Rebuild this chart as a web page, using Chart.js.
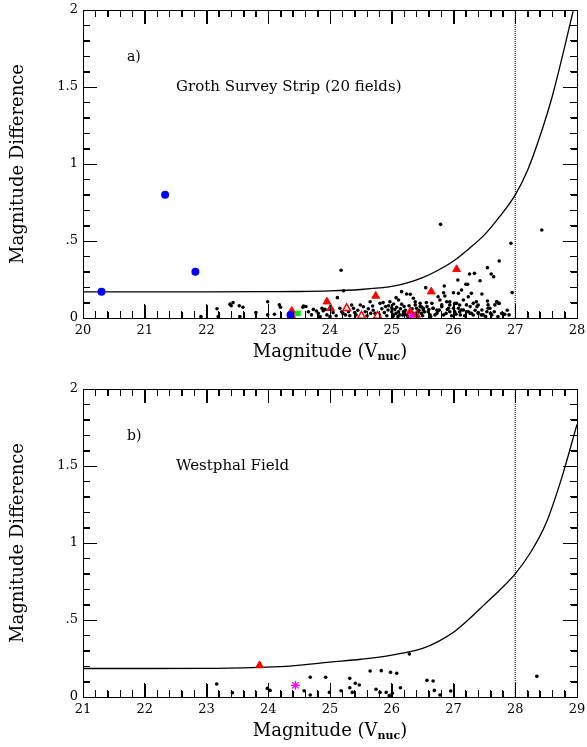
<!DOCTYPE html>
<html>
<head>
<meta charset="utf-8">
<script src="https://cdn.jsdelivr.net/npm/chart.js@4"></script>
<style>
  html, body { margin: 0; padding: 0; background: #fff; }
  canvas { display: block; }
</style>
</head>
<body>
<canvas id="panelA" width="587" height="370"></canvas>
<canvas id="panelB" width="587" height="377"></canvas>
<script>
// ---------- Data: panel a (Groth Survey Strip) ----------
const aDotX = [21.91, 22.17, 22.19, 22.38, 22.43, 22.40, 22.53, 22.59, 22.54, 22.80, 22.99, 22.99, 23.10, 23.18, 23.20,
  23.56, 23.61, 23.57, 23.73, 23.78, 23.81, 23.84, 23.87, 23.89, 23.92, 23.65, 23.70, 23.95, 24.00, 24.10,
  24.18, 24.22, 24.12, 24.16, 24.19, 24.21, 24.05, 24.30, 24.35, 24.38, 24.25, 24.32, 24.40, 24.42, 24.45,
  24.49, 24.54, 24.57, 24.60, 24.62, 24.65, 24.66, 24.69, 24.70, 24.73, 24.80, 24.81, 24.84, 24.86, 24.88,
  24.90, 24.92, 24.94, 24.95, 24.97, 25.00, 25.00, 25.02, 25.03, 25.03, 25.05, 25.07, 25.07, 25.08, 25.10,
  25.11, 25.11, 25.13, 25.14, 25.16, 25.16, 25.18, 25.19, 25.20, 25.21, 25.22, 25.24, 25.24, 25.26, 25.28,
  25.30, 25.33, 25.35, 25.35, 25.38, 25.38, 25.40, 25.42, 25.43, 25.44, 25.46, 25.46, 25.48, 25.48, 25.50,
  25.51, 25.51, 25.53, 25.55, 25.56, 25.57, 25.59, 25.60, 25.62, 25.63, 25.65, 25.67, 25.67, 25.70, 25.73,
  25.73, 25.75, 25.75, 25.77, 25.78, 25.79, 25.81, 25.81, 25.84, 25.84, 25.85, 25.86, 25.88, 25.89, 25.90,
  25.92, 25.94, 25.94, 25.94, 25.97, 26.00, 26.00, 26.02, 26.02, 26.04, 26.05, 26.07, 26.08, 26.08, 26.10,
  26.10, 26.11, 26.13, 26.13, 26.16, 26.16, 26.18, 26.20, 26.21, 26.21, 26.23, 26.24, 26.24, 26.26, 26.27,
  26.27, 26.29, 26.29, 26.32, 26.32, 26.34, 26.35, 26.37, 26.38, 26.40, 26.40, 26.40, 26.43, 26.45, 26.46,
  26.46, 26.48, 26.52, 26.54, 26.55, 26.55, 26.56, 26.56, 26.59, 26.60, 26.61, 26.62, 26.65, 26.66, 26.67,
  26.70, 26.70, 26.72, 26.73, 26.74, 26.74, 26.78, 26.83, 26.87, 26.90, 26.93, 26.95, 27.43];
const aDotY = [0.01, 0.06, 0.01, 0.09, 0.10, 0.08, 0.08, 0.07, 0.01, 0.035, 0.106, 0.02, 0.024, 0.085, 0.07,
  0.07, 0.075, 0.078, 0.056, 0.045, 0.03, 0.01, 0.063, 0.047, 0.056, 0.04, 0.02, 0.02, 0.01, 0.015,
  0.31, 0.177, 0.132, 0.063, 0.041, 0.03, 0.035, 0.041, 0.084, 0.063, 0.02, 0.015, 0.035, 0.02, 0.05,
  0.084, 0.073, 0.041, 0.015, 0.06, 0.106, 0.03, 0.078, 0.05, 0.03, 0.02, 0.095, 0.06, 0.10, 0.035,
  0.075, 0.015, 0.052, 0.08, 0.106, 0.041, 0.065, 0.01, 0.091, 0.02, 0.055, 0.132, 0.03, 0.07, 0.01,
  0.117, 0.041, 0.02, 0.06, 0.171, 0.09, 0.02, 0.041, 0.075, 0.03, 0.05, 0.156, 0.02, 0.01, 0.08,
  0.154, 0.06, 0.128, 0.03, 0.106, 0.085, 0.063, 0.01, 0.041, 0.05, 0.095, 0.074, 0.073, 0.03, 0.015,
  0.063, 0.052, 0.04, 0.197, 0.10, 0.074, 0.041, 0.055, 0.02, 0.01, 0.095, 0.063, 0.063, 0.02, 0.052,
  0.03, 0.138, 0.045, 0.052, 0.117, 0.608, 0.073, 0.085, 0.164, 0.02, 0.208, 0.143, 0.03, 0.106, 0.055,
  0.063, 0.106, 0.041, 0.085, 0.015, 0.164, 0.063, 0.095, 0.041, 0.025, 0.095, 0.247, 0.16, 0.063, 0.084,
  0.041, 0.02, 0.182, 0.052, 0.052, 0.117, 0.015, 0.219, 0.041, 0.085, 0.219, 0.138, 0.041, 0.286, 0.03,
  0.074, 0.16, 0.03, 0.019, 0.095, 0.29, 0.05, 0.106, 0.074, 0.084, 0.035, 0.03, 0.242, 0.02, 0.156,
  0.052, 0.02, 0.01, 0.041, 0.327, 0.11, 0.063, 0.085, 0.063, 0.03, 0.286, 0.02, 0.268, 0.041, 0.085,
  0.106, 0.106, 0.01, 0.095, 0.37, 0.095, 0.03, 0.024, 0.05, 0.02, 0.485, 0.165, 0.571];

const aBlueX = [20.30, 21.33, 21.82, 23.36];
const aBlueY = [0.17, 0.80, 0.30, 0.02];
const aTriX = [23.38, 23.95, 24.01, 24.74, 25.30, 25.40, 25.64, 26.05];
const aTriY = [0.045, 0.106, 0.063, 0.143, 0.041, 0.02, 0.171, 0.316];
const aOpenTriX = [23.38, 24.27, 24.51, 24.77];
const aOpenTriY = [0.01, 0.063, 0.013, 0.013];
const aGreenX = [23.48];
const aGreenY = [0.03];
const aStarX = [25.32];
const aStarY = [0.01];

const aCurveX = [20.0, 21.0, 22.0, 23.0, 23.5, 24.0, 24.5, 24.8, 25.0, 25.25, 25.5, 25.75, 26.0, 26.25, 26.5, 26.75, 27.0, 27.2, 27.4, 27.6, 27.8, 28.0];
const aCurveY = [0.170, 0.170, 0.170, 0.171, 0.172, 0.176, 0.185, 0.195, 0.205, 0.228, 0.262, 0.31, 0.37, 0.45, 0.54, 0.66, 0.80, 0.96, 1.18, 1.44, 1.76, 2.10];
const aLimit = 27;

// ---------- Data: panel b (Westphal Field) ----------
const bDotX = [23.165, 23.42, 23.985, 24.03, 24.58, 24.68, 24.68, 24.93, 24.99, 25.18, 25.32, 25.32, 25.36, 25.41, 25.475,
  25.65, 25.745, 25.81, 25.83, 25.91, 25.96, 25.98, 26.01, 26.08, 26.14, 26.285, 26.57, 26.67, 26.69, 26.78, 26.955, 28.35];
const bDotY = [0.084, 0.028, 0.056, 0.043, 0.041, 0.013, 0.128, 0.128, 0.03, 0.041, 0.121, 0.06, 0.03, 0.089, 0.078,
  0.169, 0.05, 0.03, 0.171, 0.03, 0.009, 0.16, 0.024, 0.154, 0.06, 0.279, 0.108, 0.104, 0.043, 0.013, 0.039, 0.134];
const bTriX = [23.86];
const bTriY = [0.205];
const bStarX = [24.44];
const bStarY = [0.076];

const bCurveX = [21.0, 22.0, 23.0, 23.85, 24.35, 25.0, 25.5, 26.0, 26.5, 26.75, 27.0, 27.25, 27.5, 27.75, 28.0, 28.25, 28.5, 28.75, 29.0];
const bCurveY = [0.185, 0.185, 0.186, 0.193, 0.200, 0.226, 0.245, 0.272, 0.316, 0.36, 0.42, 0.505, 0.60, 0.695, 0.80, 0.94, 1.13, 1.42, 1.77];
const bLimit = 28;

// ---------- Helpers ----------
const FONT = '"DejaVu Serif", "Liberation Serif", serif';
const pts = (xs, ys) => xs.map((x, i) => ({ x, y: ys[i] }));

// inward tick marks on all four sides, drawn last
function drawTicks(chart, xMin) {
  const { ctx, chartArea: a } = chart;
  const xs = chart.scales.x, ys = chart.scales.y;
  const L = Math.round(a.left), R = Math.round(a.right), T = Math.round(a.top), B = Math.round(a.bottom);
  ctx.save();
  ctx.setLineDash([]);
  ctx.globalAlpha = 1;
  ctx.globalCompositeOperation = 'source-over';
  ctx.fillStyle = '#000';
  for (let i = 0; i <= 40; i++) {
    const px = Math.round(xs.getPixelForValue(xMin + i * 0.2));
    const len = i % 5 === 0 ? 14 : 7;
    ctx.fillRect(px, B - len + 1, 1, len);
    ctx.fillRect(px, T, 1, len);
  }
  for (let i = 0; i <= 20; i++) {
    const py = Math.round(ys.getPixelForValue(i * 0.1));
    const len = i % 5 === 0 ? 14 : 7;
    ctx.fillRect(L, py, len, 1);
    ctx.fillRect(R - len + 1, py, len, 1);
  }
  ctx.restore();
}

// frame and text labels
const frameTicks = {
  id: 'frameTicks',
  afterDraw(chart, args, o) {
    const { ctx, chartArea: a } = chart;
    const L = Math.round(a.left), R = Math.round(a.right), T = Math.round(a.top), B = Math.round(a.bottom);
    ctx.save();
    ctx.setLineDash([]);
    ctx.fillStyle = '#000';
    ctx.fillRect(L, T, R - L + 1, 1);
    ctx.fillRect(L, B, R - L + 1, 1);
    ctx.fillRect(L, T, 1, B - T + 1);
    ctx.fillRect(R, T, 1, B - T + 1);
    drawTicks(chart, o.xMin);

    ctx.textBaseline = 'middle';
    ctx.textAlign = 'left';
    ctx.font = `14px ${FONT}`;
    ctx.fillText(o.letter, L + 44, T + o.letterDy);
    ctx.font = `15px ${FONT}`;
    ctx.fillText(o.name, L + 93, T + o.nameDy);

    // y title
    ctx.font = `18px ${FONT}`;
    ctx.save();
    ctx.translate(18, (T + B) / 2);
    ctx.rotate(-Math.PI / 2);
    ctx.textAlign = 'center';
    ctx.fillText('Magnitude Difference', 0, 0);
    ctx.restore();

    // x title with subscript
    const main = 'Magnitude (V';
    const sub = 'nuc';
    ctx.font = `18px ${FONT}`;
    const w1 = ctx.measureText(main).width;
    const w3 = ctx.measureText(')').width;
    ctx.font = `bold 11px ${FONT}`;
    const w2 = ctx.measureText(sub).width;
    const tx = (L + R) / 2 - (w1 + w2 + w3) / 2;
    const ty = B + o.titleDy;
    ctx.font = `18px ${FONT}`;
    ctx.fillText(main, tx, ty);
    ctx.font = `bold 11px ${FONT}`;
    ctx.fillText(sub, tx + w1, ty + 5);
    ctx.font = `18px ${FONT}`;
    ctx.fillText(')', tx + w1 + w2, ty);
    ctx.restore();
  },
  afterRender(chart, args, o) {
    drawTicks(chart, o.xMin);
  }
};

// unlabelled axis that only draws inward tick marks
function tickAxis(position, min, max, step, len) {
  const horiz = position === 'top' || position === 'bottom';
  return {
    type: 'linear', position, min, max, weight: 0,
    grid: { display: true, drawOnChartArea: false, drawTicks: true, tickLength: -len, color: '#000', lineWidth: 1 },
    border: { display: false },
    ticks: { stepSize: step, autoSkip: false, maxTicksLimit: 100, padding: 0, callback: () => '' },
    afterFit: (s) => {
      if (horiz) { s.height = 0; s.paddingLeft = 0; s.paddingRight = 0; }
      else { s.width = 0; s.paddingTop = 0; s.paddingBottom = 0; }
    }
  };
}

function makePanel(id, p) {
  const datasets = [
    { label: 'stars', data: pts(p.starX, p.starY), pointStyle: 'star', pointRadius: 4.5, borderColor: '#ff00ff', backgroundColor: '#ff00ff', borderWidth: 1.3 },
    { label: 'green', data: pts(p.greenX, p.greenY), pointStyle: 'rect', pointRadius: 4, borderColor: '#00ee00', backgroundColor: '#00ee00', borderWidth: 0 },
    { label: 'blue', data: pts(p.blueX, p.blueY), pointStyle: 'circle', pointRadius: 4, borderColor: '#0000ff', backgroundColor: '#0000ff', borderWidth: 0 },
    { label: 'tri', data: pts(p.triX, p.triY), pointStyle: 'triangle', pointRadius: 4.5, borderColor: '#ff0000', backgroundColor: '#ff0000', borderWidth: 1 },
    { label: 'openTri', data: pts(p.openX, p.openY), pointStyle: 'triangle', pointRadius: 4.5, borderColor: '#ff0000', backgroundColor: '#ffffff', borderWidth: 1.5 },
    { label: 'dots', data: pts(p.dotX, p.dotY), pointStyle: 'circle', pointRadius: 1.8, borderWidth: 0, backgroundColor: '#000', borderColor: '#000' },
    { label: 'curve', data: pts(p.curveX, p.curveY), showLine: true, pointRadius: 0, borderColor: '#000', borderWidth: 1.3,
      cubicInterpolationMode: 'monotone', fill: false },
    { label: 'limit', data: [{ x: p.limit, y: 0 }, { x: p.limit, y: 2 }], showLine: true, pointRadius: 0, borderColor: '#000',
      borderWidth: 1, borderDash: [1, 1], fill: false }
  ];

  return new Chart(document.getElementById(id), {
    type: 'scatter',
    data: { datasets },
    options: {
      responsive: false,
      animation: false,
      events: [],
      layout: { padding: { top: p.padTop, right: 10, left: 0, bottom: 0 } },
      plugins: {
        legend: { display: false },
        tooltip: { enabled: false },
        frameTicks: { letter: p.letter, name: p.name, letterDy: 47, nameDy: 77, titleDy: 34, xMin: p.xMin }
      },
      scales: {
        x: {
          type: 'linear', position: 'bottom', min: p.xMin, max: p.xMax, weight: 1,
          grid: { display: true, drawOnChartArea: false, drawTicks: true, tickLength: -14, color: '#000', lineWidth: 1 },
          border: { display: false },
          ticks: { stepSize: 1, padding: 19, color: '#000', font: { family: FONT, size: 13 }, maxRotation: 0 },
          afterFit: (s) => { s.height = p.xHeight; s.paddingLeft = 0; s.paddingRight = 0; }
        },
        xMinor: tickAxis('bottom', p.xMin, p.xMax, 0.2, 7),
        xTop: tickAxis('top', p.xMin, p.xMax, 1, 14),
        xTopMinor: tickAxis('top', p.xMin, p.xMax, 0.2, 7),
        y: {
          type: 'linear', position: 'left', min: 0, max: 2, weight: 1,
          grid: { display: true, drawOnChartArea: false, drawTicks: true, tickLength: -14, color: '#000', lineWidth: 1 },
          border: { display: false },
          ticks: { stepSize: 0.5, padding: 19, color: '#000', font: { family: FONT, size: 13 },
            callback: (v) => (v === 0.5 ? '.5' : String(v)) },
          afterFit: (s) => { s.width = 83; s.paddingTop = 0; s.paddingBottom = 0; }
        },
        yMinor: tickAxis('left', 0, 2, 0.1, 7),
        yRight: tickAxis('right', 0, 2, 0.5, 14),
        yRightMinor: tickAxis('right', 0, 2, 0.1, 7)
      }
    },
    plugins: [frameTicks]
  });
}

makePanel('panelA', {
  dotX: aDotX, dotY: aDotY, blueX: aBlueX, blueY: aBlueY, triX: aTriX, triY: aTriY,
  openX: aOpenTriX, openY: aOpenTriY, greenX: aGreenX, greenY: aGreenY, starX: aStarX, starY: aStarY,
  curveX: aCurveX, curveY: aCurveY, limit: aLimit, xMin: 20, xMax: 28,
  padTop: 10, xHeight: 52, letter: 'a)', name: 'Groth Survey Strip (20 fields)'
});

makePanel('panelB', {
  dotX: bDotX, dotY: bDotY, blueX: [], blueY: [], triX: bTriX, triY: bTriY,
  openX: [], openY: [], greenX: [], greenY: [], starX: bStarX, starY: bStarY,
  curveX: bCurveX, curveY: bCurveY, limit: bLimit, xMin: 21, xMax: 29,
  padTop: 19, xHeight: 50, letter: 'b)', name: 'Westphal Field'
});
</script>
</body>
</html>
